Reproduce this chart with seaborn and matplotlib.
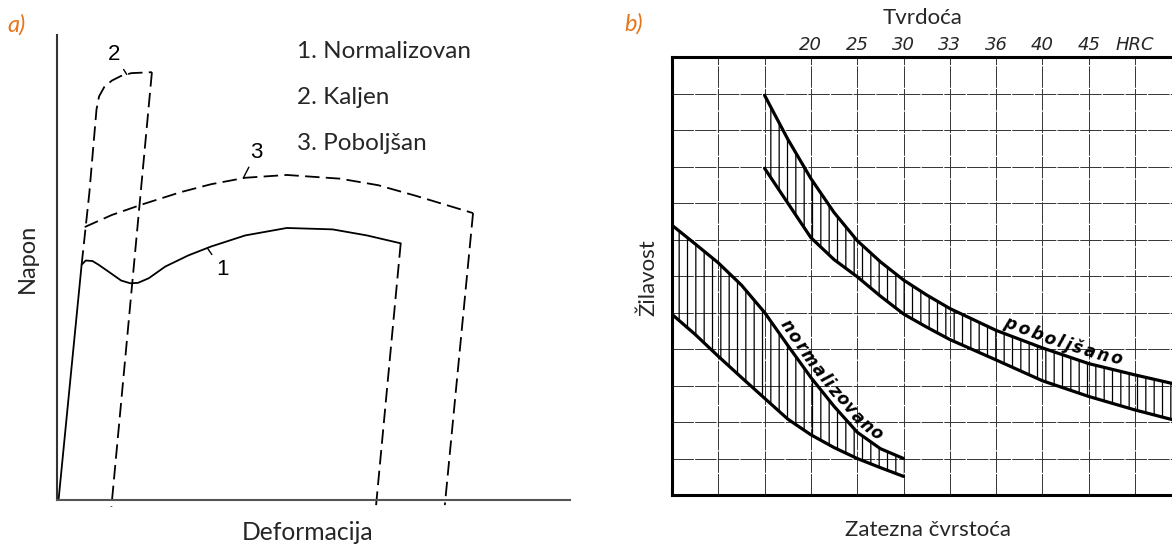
import numpy as np
import matplotlib
matplotlib.use("Agg")
import matplotlib.pyplot as plt
from matplotlib.transforms import IdentityTransform
from matplotlib.textpath import TextToPath
from matplotlib.font_manager import FontProperties
import seaborn as sns

# ---- panel a): stress-strain curves (arbitrary units, 0..100) ----
c1_x = [0.3, 4.8, 5.6, 6.9, 8.1, 10.7, 12.5, 14.3, 15.8, 17.9, 21.1, 25.6, 30.0, 36.7, 44.8, 53.7, 60.4, 67.0]
c1_y = [0.0, 50.6, 51.5, 51.4, 50.6, 48.6, 47.2, 46.6, 46.7, 47.7, 50.2, 52.6, 54.5, 56.9, 58.5, 58.2, 56.9, 55.2]
c2_x = [4.8, 6.3, 7.7, 8.2, 9.2, 10.7, 12.5, 14.5, 18.5]
c2_y = [50.6, 66.0, 84.0, 86.8, 88.8, 90.2, 91.2, 91.8, 92.0]
c3_x = [5.4, 10.7, 16.7, 24.1, 30.0, 36.7, 44.8, 55.2, 62.6, 70.0, 81.1]
c3_y = [58.7, 61.3, 63.6, 66.2, 67.9, 69.3, 69.9, 69.1, 67.7, 65.4, 61.7]
# unloading lines: (start on curve) -> (end below strain axis)
unload_x = {"1": [67.0, 62.2], "2": [18.5, 10.6], "3": [81.1, 75.6]}
unload_y = {"1": [55.2, -1.1], "2": [92.0, -1.5], "3": [61.7, -1.1]}
legend_lines = ["1. Normalizovan", "2. Kaljen", "3. Poboljšan"]

# ---- panel b): toughness vs tensile strength bands (grid units) ----
norm_x = [0, 0.5, 1, 1.5, 2, 2.5, 3, 3.5, 4, 4.5, 5]
norm_upper = [7.39, 6.88, 6.36, 5.75, 5.0, 4.1, 3.22, 2.43, 1.72, 1.27, 1.0]
norm_lower = [4.95, 4.4, 3.8, 3.22, 2.65, 2.08, 1.65, 1.3, 1.0, 0.75, 0.51]
pob_x = [2, 2.5, 3, 3.5, 4, 4.5, 5, 5.5, 6, 7, 8, 9, 10, 11]
pob_upper = [10.95, 9.75, 8.67, 7.74, 6.97, 6.39, 5.89, 5.48, 5.11, 4.51, 4.03, 3.60, 3.29, 3.0]
pob_lower = [8.95, 8.0, 7.05, 6.45, 5.98, 5.45, 4.96, 4.6, 4.26, 3.70, 3.13, 2.70, 2.33, 2.0]
hrc_labels = ["20", "25", "30", "33", "36", "40", "45", "HRC"]

W, H = 1172, 547
ORANGE = "#E5761C"
DASH = (0, (8, 3.5))

sns.set_theme(style="white")
plt.rcParams["font.family"] = ["Lato", "DejaVu Sans"]
plt.rcParams["hatch.linewidth"] = 0.9

fig = plt.figure(figsize=(W / 100, H / 100), dpi=100)


def fx(px):
    return px / W


def fy(py):
    return 1 - py / H


def text_along(ax, xs, ys, text, x0, track, off, size):
    """Place characters one by one along a curve, baseline `off` px from it."""
    fp = FontProperties(family="DejaVu Sans", style="italic", weight="bold", size=size)
    ttp = TextToPath()
    widths = [ttp.get_text_width_height_descent(ch, fp, ismath=False)[0] * fig.dpi / 72
              for ch in text]
    pts = ax.transData.transform(np.column_stack([xs, ys]))
    seg = np.hypot(*np.diff(pts, axis=0).T)
    s = np.concatenate([[0], np.cumsum(seg)])
    si = np.interp(x0, xs, s)
    for i, ch in enumerate(text):
        if i > 0:
            si += (widths[i - 1] + widths[i]) / 2 + track
        a = np.array([np.interp(si - 14, s, pts[:, 0]), np.interp(si - 14, s, pts[:, 1])])
        b = np.array([np.interp(si + 14, s, pts[:, 0]), np.interp(si + 14, s, pts[:, 1])])
        d = (b - a) / np.hypot(*(b - a))
        p = np.array([np.interp(si, s, pts[:, 0]), np.interp(si, s, pts[:, 1])])
        p = p + np.array([-d[1], d[0]]) * off
        ang = np.degrees(np.arctan2(d[1], d[0]))
        ax.text(p[0], p[1], ch, transform=IdentityTransform(), rotation=ang,
                rotation_mode="anchor", ha="center", va="baseline",
                fontproperties=fp, color="black")


# ================= panel a =================
ax_a = fig.add_axes([fx(57), fy(518.6), fx(570 - 57), (518.6 - 35) / H])
sns.lineplot(x=c1_x, y=c1_y, sort=False, estimator=None, color="black", lw=1.3, ax=ax_a)
sns.lineplot(x=c2_x, y=c2_y, sort=False, estimator=None, color="black", lw=1.3,
             linestyle=DASH, ax=ax_a)
sns.lineplot(x=c3_x, y=c3_y, sort=False, estimator=None, color="black", lw=1.3,
             linestyle=DASH, ax=ax_a)
for k in unload_x:
    sns.lineplot(x=unload_x[k], y=unload_y[k], sort=False, estimator=None, color="black",
                 lw=1.3, linestyle=DASH, ax=ax_a)

ax_a.set_xlim(0, 100)
ax_a.set_ylim(-4, 100)
ax_a.set_xticks([])
ax_a.set_yticks([])
ax_a.set_xlabel("")
ax_a.set_ylabel("")
for side in ["top", "right"]:
    ax_a.spines[side].set_visible(False)
ax_a.spines["left"].set_bounds(0, 100)
ax_a.spines["left"].set_color("#333333")
ax_a.spines["left"].set_linewidth(1.5)
ax_a.spines["bottom"].set_position(("data", 0))
ax_a.spines["bottom"].set_color("#555555")
ax_a.spines["bottom"].set_linewidth(1.5)

num_font = dict(family="Liberation Sans", fontsize=16, color="black")
lead = dict(arrowstyle="-", color="black", lw=1.0, shrinkA=1, shrinkB=0)
ax_a.annotate("2", xy=(13.6, np.interp(13.6, c2_x, c2_y)), xytext=(11.1, 95.8),
              ha="center", va="center", arrowprops=lead, **num_font)
ax_a.annotate("3", xy=(36.3, np.interp(36.3, c3_x, c3_y)), xytext=(38.9, 74.8),
              ha="center", va="center", arrowprops=lead, **num_font)
ax_a.annotate("1", xy=(29.3, np.interp(29.3, c1_x, c1_y)), xytext=(32.2, 49.6),
              ha="center", va="center", arrowprops=lead, **num_font)

for i, line in enumerate(legend_lines):
    fig.text(fx(297), fy(52 + 46 * i), line, ha="left", va="center", fontsize=17.5)

fig.text(fx(27), fy(258), "Napon", rotation=90, ha="center", va="center", fontsize=17)
fig.text(fx(308), fy(532), "Deformacija", ha="center", va="center", fontsize=17.7)
fig.text(fx(17), fy(25), "a)", ha="center", va="center", fontsize=17,
         style="italic", color=ORANGE)

# ================= panel b =================
col_px = 46.3
ax_b = fig.add_axes([fx(672), fy(495), fx(11 * col_px), 438 / H])
ax_b.fill_between(norm_x, norm_lower, norm_upper, facecolor="none", edgecolor="black",
                  hatch="||", linewidth=0)
ax_b.fill_between(pob_x, pob_lower, pob_upper, facecolor="none", edgecolor="black",
                  hatch="||", linewidth=0)
for xs, ys in [(norm_x, norm_upper), (norm_x, norm_lower), (pob_x, pob_upper), (pob_x, pob_lower)]:
    sns.lineplot(x=xs, y=ys, sort=False, estimator=None, color="black", lw=2.3, ax=ax_b)

ax_b.set_xlim(0, 11)
ax_b.set_ylim(0, 12)
ax_b.set_xlabel("")
ax_b.set_ylabel("")
ax_b.set_xticks(np.arange(0, 12))
ax_b.set_xticklabels([""] * 3 + hrc_labels + [""])
ax_b.set_yticks(np.arange(0, 13))
ax_b.set_yticklabels([])
ax_b.xaxis.tick_top()
ax_b.tick_params(axis="both", length=0)
ax_b.tick_params(axis="x", pad=2.5)
for lab in ax_b.get_xticklabels():
    lab.set_fontfamily("DejaVu Sans")
    lab.set_fontstyle("italic")
    lab.set_fontsize(13)
ax_b.grid(True, color="#333333", lw=0.7, linestyle=(0, (22, 1.3)))
ax_b.set_axisbelow(True)
for side in ax_b.spines.values():
    side.set_visible(True)
    side.set_color("black")
    side.set_linewidth(2.2)

text_along(ax_b, norm_x, norm_upper, "normalizovano", 2.3, 1.4, 5, 12)
text_along(ax_b, pob_x, pob_upper, "poboljšano", 7.22, 2.4, 6, 12)

fig.text(fx(923), fy(18), "Tvrdoća", ha="center", va="center", fontsize=16)
fig.text(fx(648), fy(278), "Žilavost", rotation=90, ha="center", va="center", fontsize=16)
fig.text(fx(928), fy(530), "Zatezna čvrstoća", ha="center", va="center", fontsize=16)
fig.text(fx(634), fy(24), "b)", ha="center", va="center", fontsize=17,
         style="italic", color=ORANGE)

fig.savefig("out.png", dpi=100)
